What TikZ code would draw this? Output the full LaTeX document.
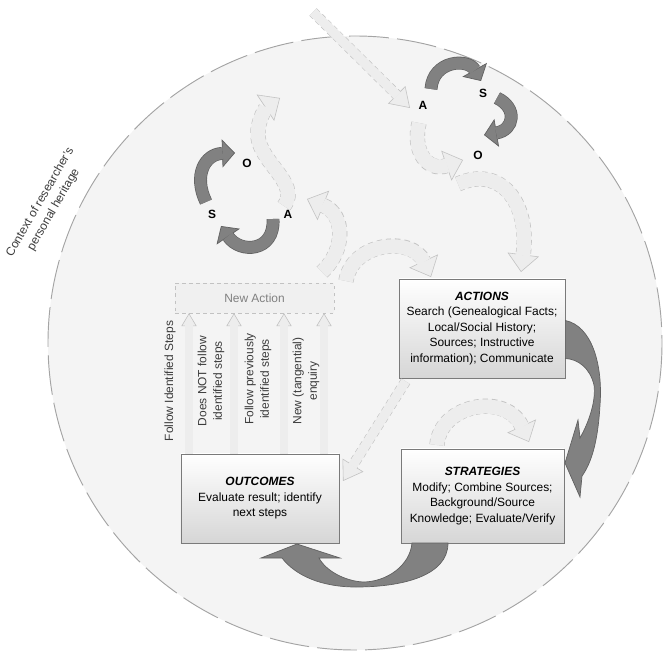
\documentclass[tikz,border=0pt]{standalone}
\usepackage{fontspec}
\setmainfont{Liberation Sans}
\usetikzlibrary{arrows.meta,calc}

\definecolor{circfill}{HTML}{F4F4F4}
\definecolor{circline}{HTML}{A4A4A4}
\definecolor{boxline}{HTML}{7A7A7A}
\definecolor{boxbottom}{HTML}{D6D6D6}
\definecolor{darkfill}{HTML}{818181}
\definecolor{darkline}{HTML}{616161}
\definecolor{ghostfill}{HTML}{EDEDED}
\definecolor{ghostline}{HTML}{C2C2C2}
\definecolor{labeltext}{HTML}{3C3C3C}

\newcommand\boxfont{\fontsize{10.2}{13.2}\selectfont}
% a ribbon arrow: outline pass, then body pass
\def\ribbon[#1/#2]#3;{\draw[#1]#3;\draw[#2]#3;}

\tikzset{
  box/.style={draw=boxline, line width=0.6pt, top color=white, bottom color=boxbottom,
    align=center, font=\boxfont, inner sep=2pt},
  wideedge/.style={draw=ghostline, line width=13pt, dash pattern=on 4pt off 3pt,
    -{Triangle[length=15pt,width=27pt,line width=0.5pt,fill=ghostfill]}},
  widebody/.style={draw=ghostfill, line width=12pt, shorten >=14pt},
  ghostedge/.style={draw=ghostline, line width=9pt, dash pattern=on 4pt off 3pt,
    -{Triangle[length=16pt,width=21pt,line width=0.5pt,fill=ghostfill]}},
  ghostbody/.style={draw=ghostfill, line width=8pt, shorten >=15pt},
  thinedge/.style={draw=ghostline, line width=7pt, dash pattern=on 4pt off 3pt,
    -{Triangle[length=11pt,width=13pt,line width=0.5pt,fill=ghostfill]}},
  thinbody/.style={draw=ghostfill, line width=6pt, shorten >=10pt},
  darkedge/.style={draw=darkline, line width=11pt,
    -{Triangle[length=11pt,width=24pt,line width=0.6pt,fill=darkfill]}},
  darkbody/.style={draw=darkfill, line width=9.8pt, shorten >=10.5pt},
  solidshape/.style={fill=darkfill, draw=darkline, line width=0.6pt},
  cycletext/.style={font=\bfseries\boxfont},
  sidetext/.style={rotate=90, align=center, text=labeltext, font=\boxfont},
}

\begin{document}
\begin{tikzpicture}[x=0.03cm, y=-0.03cm]
    %%%%% START %%%%%
    \useasboundingbox (0,0) rectangle (672,656);

    \draw[fill=circfill, draw=circline, line width=0.8pt, dash pattern=on 34pt off 7pt] (355,343) circle (307);
    \node[rotate=60, align=center, text=labeltext, font=\boxfont] (context) at (47,206)
        {Context of researcher's\\personal heritage};

    % boxes
    \node[box, minimum width=4.98cm, minimum height=2.97cm] (actions) at (482,328.5)
        {\textbf{\textit{ACTIONS}}\\Search (Genealogical Facts;\\Local/Social History;\\Sources; Instructive\\information); Communicate};
    \node[box, minimum width=4.89cm, minimum height=2.82cm] (strategies) at (482.5,496)
        {\textbf{\textit{STRATEGIES}}\\Modify; Combine Sources;\\Background/Source\\Knowledge; Evaluate/Verify};
    \node[box, minimum width=4.74cm, minimum height=2.67cm] (outcomes) at (260,498.5)
        {\textbf{\textit{OUTCOMES}}\\Evaluate result; identify\\next steps};
    \node[draw=ghostline, fill=ghostfill!60!circfill, dashed, minimum width=4.77cm, minimum height=0.9cm,
        text=gray, font=\boxfont] (newaction) at (254.5,298) {New Action};

    % faded arrows
    \ribbon[ghostedge/ghostbody] (313,12) -- (410,108);
    \ribbon[wideedge/widebody] (419,123) .. controls (412,152) and (428,172) .. (463,160);
    \ribbon[wideedge/widebody] (458,184) .. controls (500,165) and (530,202) .. (521,272);
    \ribbon[wideedge/widebody] (346,281) .. controls (352,242) and (412,236) .. (431,277);
    \ribbon[wideedge/widebody] (322,272) .. controls (346,250) and (345,214) .. (307,199);
    \ribbon[wideedge/widebody] (284,206) .. controls (302,182) and (254,160) .. (258,130)
        .. controls (260,114) and (268,106) .. (280,98);
    \ribbon[ghostedge/ghostbody] ($(actions.south west)+(7,3)$) -- (343,481);
    \ribbon[wideedge/widebody] (437,445) .. controls (440,404) and (506,392) .. (529,442);

    \foreach \x in {189,234,284,324}{
        \coordinate (up) at (\x,0);
        \ribbon[thinedge/thinbody] (outcomes.north -| up) -- (newaction.south -| up);
    }

    % labels on the steps
    \node[sidetext] (lab1) at (170,381) {Follow Identified Steps};
    \node[sidetext] (lab2) at (211,381) {Does NOT follow\\identified steps};
    \node[sidetext] (lab3) at (258,379) {Follow previously\\identified steps};
    \node[sidetext] (lab4) at (306,381) {New (tangential)\\enquiry};

    % big cycle arrows
    \draw[solidshape] ($(actions.east)+(0,-8)$) .. controls (592,326) and (603,365) .. (600,405)
        .. controls (598,440) and (592,462) .. (582,476)
        -- (580,497) -- (565,463) -- (578,420) -- (580,438)
        .. controls (590,420) and (596,400) .. (594,385)
        .. controls (590,368) and (578,359) .. ($(actions.east)+(0,30)$) -- cycle;
    \draw[solidshape] (412,543) .. controls (410,566) and (386,582) .. (363,582)
        .. controls (345,581) and (326,571) .. (319,558)
        -- (340,558) -- (297,544) -- (261,558) -- (282,558)
        .. controls (296,576) and (322,587) .. (356,587)
        .. controls (402,587) and (448,576) .. (448,543) -- cycle;

    % small cycle, top right
    \node[cycletext] (a1) at (423,105) {A};
    \node[cycletext] (s1) at (483,93) {S};
    \node[cycletext] (o1) at (478,155) {O};
    \ribbon[darkedge/darkbody] (431,89) .. controls (433,60) and (468,58) .. (481,81);
    \ribbon[darkedge/darkbody] (497,98) .. controls (518,108) and (514,130) .. (484,135);

    % small cycle, top left
    \node[cycletext] (o2) at (247,163) {O};
    \node[cycletext] (s2) at (212,214) {S};
    \node[cycletext] (a2) at (288,214) {A};
    \ribbon[darkedge/darkbody] (206,202) .. controls (193,175) and (205,154) .. (235,153);
    \ribbon[darkedge/darkbody] (273,219) .. controls (275,252) and (240,254) .. (221,226);

    %%%%% END %%%%%
\end{tikzpicture}
\end{document}
